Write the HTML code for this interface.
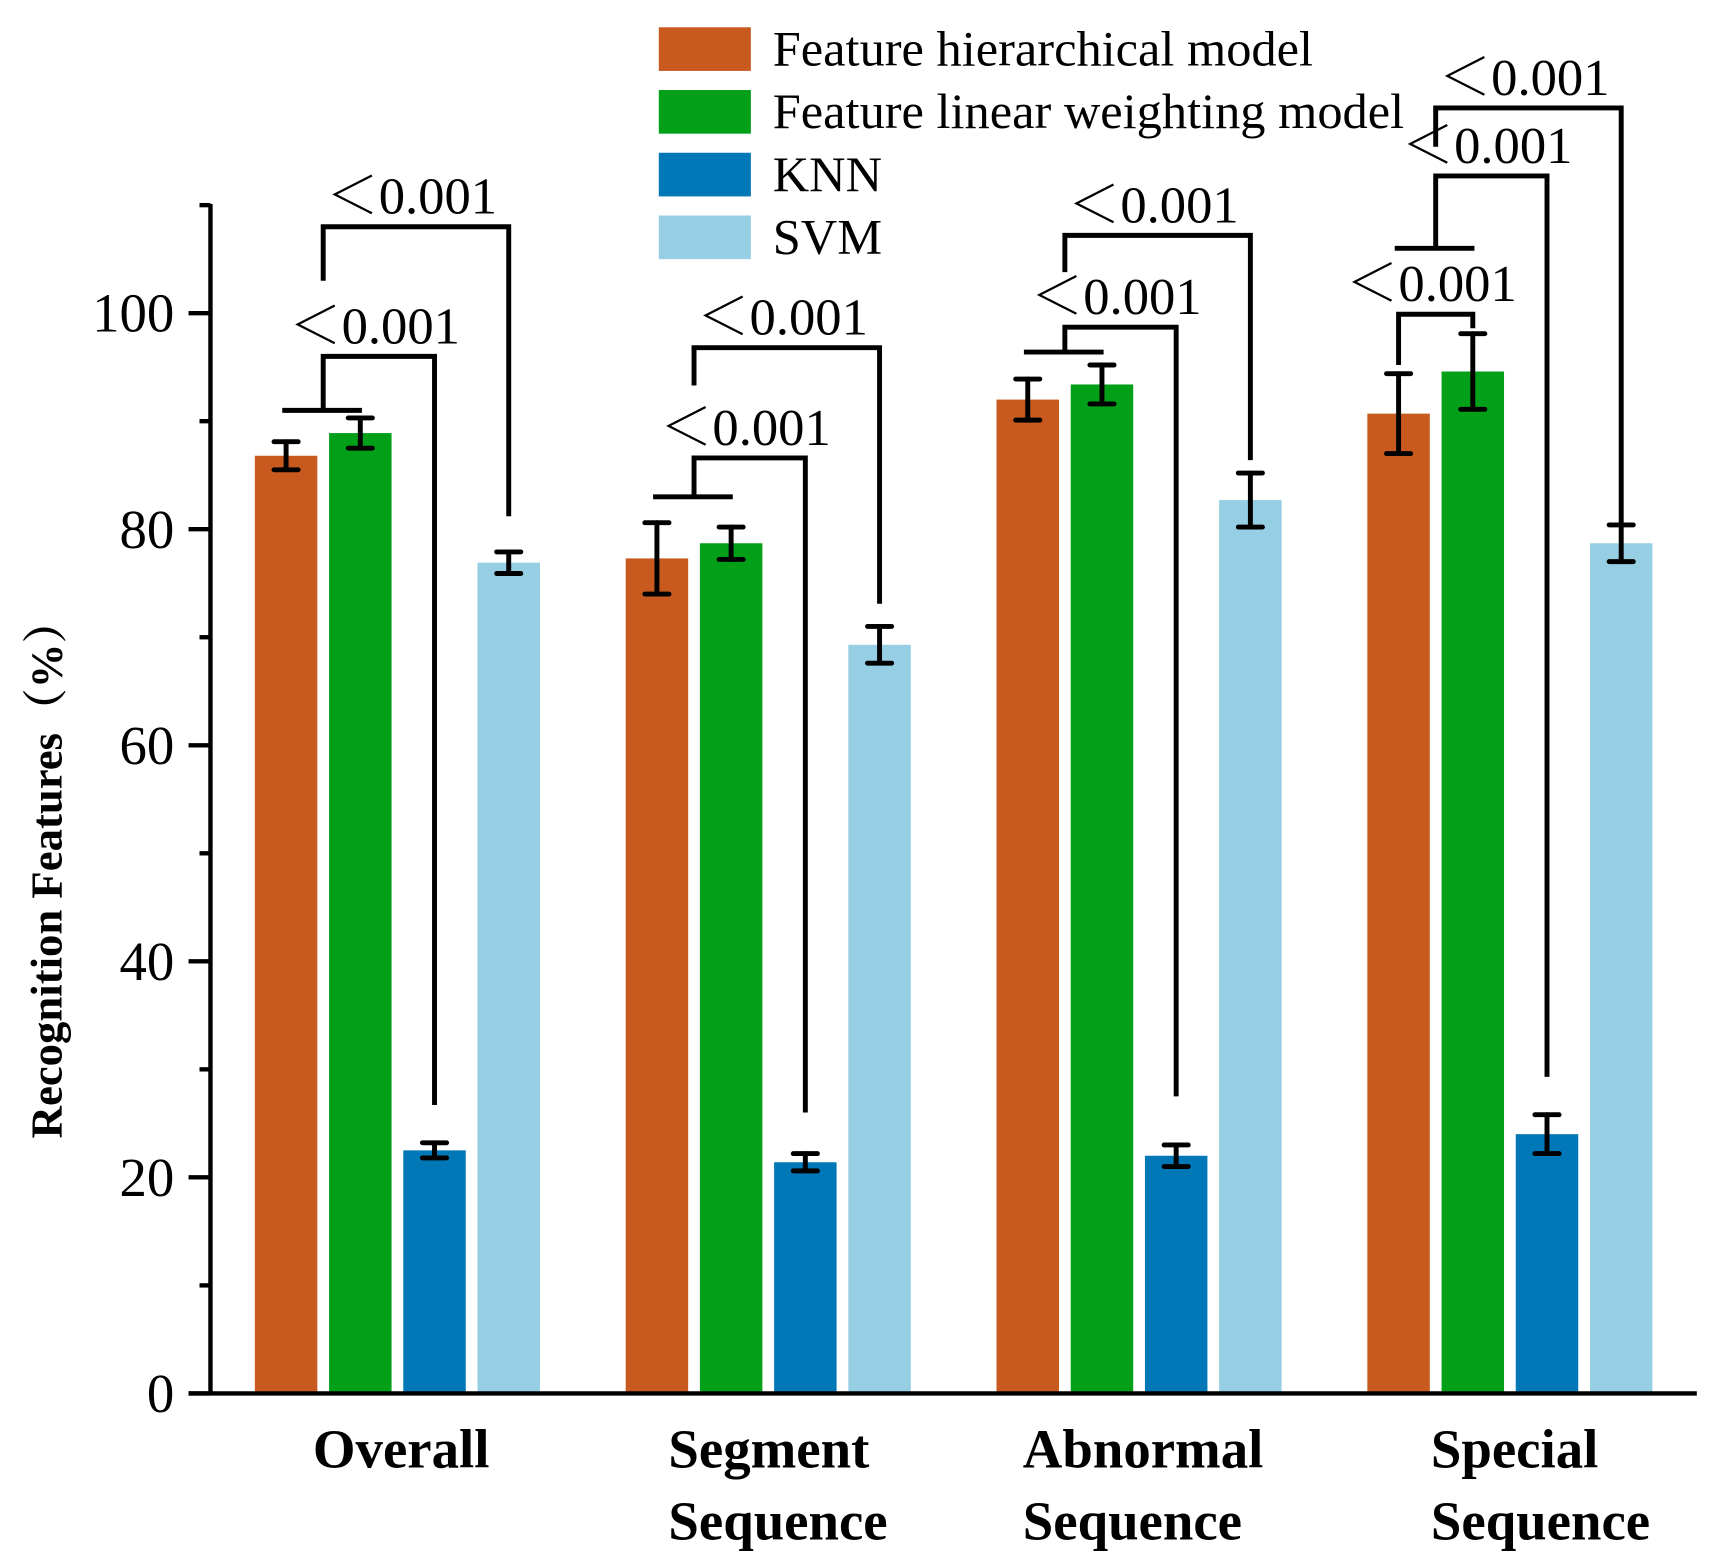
<!DOCTYPE html>
<html><head><meta charset="utf-8">
<style>
html,body{margin:0;padding:0;background:#fff;}
svg{display:block;}
text{font-family:"Liberation Serif","Noto Serif CJK SC",serif;fill:#000;}
</style></head>
<body>
<svg id="chart" width="1710" height="1568" viewBox="0 0 1560 1437" preserveAspectRatio="none" xmlns="http://www.w3.org/2000/svg">
  <g id="legend"></g>
  <g id="bars"></g>
  <g id="errs"></g>
  <g id="sig"></g>
  <g id="axes"></g>
</svg>
<script>
const categories = [["Overall"], ["Segment", "Sequence"], ["Abnormal", "Sequence"], ["Special", "Sequence"]];
const seriesNames = ["Feature hierarchical model", "Feature linear weighting model", "KNN", "SVM"];
const hierValues = [86.8, 77.3, 92.0, 90.7];
const linearValues = [88.9, 78.7, 93.4, 94.6];
const knnValues = [22.5, 21.4, 22.0, 24.0];
const svmValues = [76.9, 69.3, 82.7, 78.7];
const hierErr = [1.3, 3.3, 1.9, 3.7];
const linearErr = [1.4, 1.5, 1.8, 3.5];
const knnErr = [0.7, 0.8, 1.0, 1.8];
const svmErr = [1.0, 1.7, 2.5, 1.7];
const yTicks = [0, 20, 40, 60, 80, 100];
const yMinorTicks = [10, 30, 50, 70, 90, 110];
const pLabel = "＜0.001";
// brackets: [group, fromSeries, toSeries, fromY, topY, toY]
const bracketData = [
  [0, 0.5, 2, 91, 96, 26.7], [0, 0.5, 3, 103, 108, 81.2],
  [1, 0.5, 2, 83, 86.6, 26], [1, 0.5, 3, 93.3, 96.8, 73.1],
  [2, 0.5, 2, 96.4, 98.7, 27.5], [2, 0.5, 3, 103.8, 107.2, 86.4],
  [3, 0, 1, 95.2, 99.9, 98.6], [3, 0.5, 2, 106, 112.7, 29.3], [3, 0.5, 3, 115.4, 119, 80.2]
];
const baseLines = [[0, 91], [1, 83], [2, 96.4], [3, 106]];

const colors = ["#C85A20", "#02A018", "#0077B6", "#96CFE4"];
const values = [hierValues, linearValues, knnValues, svmValues];
const errs = [hierErr, linearErr, knnErr, svmErr];
const labelShift = [0, 39, 24, 58];
const NS = "http://www.w3.org/2000/svg";
const X0 = 192, Y0 = 1277, PX = 9.9, BW = 57, STEP = 67.7, GSTEP = 338.3, G0 = 232.5;
function y(v){ return Y0 - v * PX; }
function xBar(g, s){ return G0 + g * GSTEP + s * STEP; }
function xc(g, s){ return xBar(g, s) + BW / 2; }
function mk(tag, attrs, parent){ const e = document.createElementNS(NS, tag); for (const k in attrs) e.setAttribute(k, attrs[k]); parent.appendChild(e); return e; }

const bars = document.getElementById('bars'), errG = document.getElementById('errs');
values.forEach((vals, s) => vals.forEach((v, g) => {
  const r = mk('rect', {x: xBar(g, s), y: y(v), width: BW, height: y(0) - y(v), fill: colors[s]}, bars);
  
  
  const e = errs[s][g], cx = xc(g, s);
  const eg = mk('g', {stroke: '#000', 'stroke-width': 4.5, 'stroke-linecap': 'round'}, errG);
  
  
  mk('line', {x1: cx, x2: cx, y1: y(v + e), y2: y(v - e)}, eg);
  mk('line', {x1: cx - 11, x2: cx + 11, y1: y(v + e), y2: y(v + e)}, eg);
  mk('line', {x1: cx - 11, x2: cx + 11, y1: y(v - e), y2: y(v - e)}, eg);
}));

const sig = document.getElementById('sig');
baseLines.forEach(b => {
  const l = mk('line', {x1: xBar(b[0], 0) + 25, x2: xBar(b[0], 1) + 30, y1: y(b[1]), y2: y(b[1]), stroke: '#000', 'stroke-width': 4.5}, sig);
  
  
});
bracketData.forEach(b => {
  const [g, s1, s2, fy, ty, ey] = b;
  const xa = xc(g, s1), xb = xc(g, s2);
  const p = mk('path', {d: `M${xa},${y(fy)} V${y(ty)} H${xb} V${y(ey)}`, fill: 'none', stroke: '#000', 'stroke-width': 4.5}, sig);
  
  
  const t = mk('text', {x: (xa + xb) / 2 - 4, y: y(ty) - 12, 'font-size': 48, 'text-anchor': 'middle'}, sig);
  t.textContent = pLabel;
  
  
});

const axes = document.getElementById('axes');
mk('line', {x1: X0, x2: X0, y1: 187, y2: Y0, stroke: '#000', 'stroke-width': 4}, axes);
mk('line', {x1: 172, x2: 1548, y1: Y0, y2: Y0, stroke: '#000', 'stroke-width': 4}, axes);
yTicks.forEach(v => {
  mk('line', {x1: 172, x2: X0, y1: y(v), y2: y(v), stroke: '#000', 'stroke-width': 4}, axes);
  const t = mk('text', {x: 159, y: y(v) + 17, 'font-size': 50, 'text-anchor': 'end'}, axes);
  t.textContent = v;
  
  
});
yMinorTicks.forEach(v => mk('line', {x1: 182, x2: X0, y1: y(v), y2: y(v), stroke: '#000', 'stroke-width': 4}, axes));
categories.forEach((lines, g) => {
  lines.forEach((ln, i) => {
    const t = mk('text', {x: g === 0 ? 366 : xBar(g, 0) + labelShift[g], y: 1345 + i * 66, 'font-size': 50, 'font-weight': 'bold', 'text-anchor': g === 0 ? 'middle' : 'start'}, axes);
    t.textContent = ln;
    
    
  });
});
const yt = mk('text', {x: 0, y: 0, 'font-size': 41, 'font-weight': 'bold', 'text-anchor': 'middle', transform: 'translate(56,796) rotate(-90)'}, axes);
yt.textContent = "Recognition Features（%）";



const legend = document.getElementById('legend');
seriesNames.forEach((n, i) => {
  const g = mk('g', {}, legend);
  
  
  mk('rect', {x: 601, y: 25 + i * 57.5, width: 84, height: 40, fill: colors[i]}, g);
  const t = mk('text', {x: 705, y: 60 + i * 57.5, 'font-size': 46}, g);
  t.textContent = n;
});
</script>
</body></html>
